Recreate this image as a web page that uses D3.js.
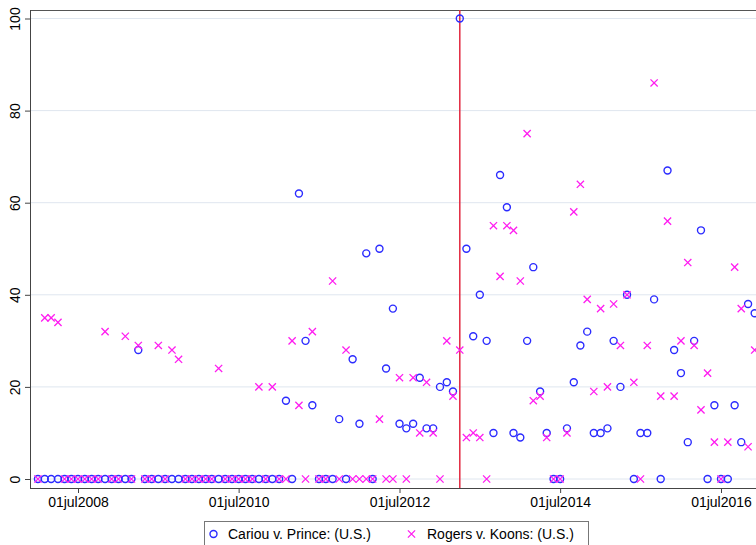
<!DOCTYPE html>
<html>
<head>
<meta charset="utf-8">
<script src="https://cdn.jsdelivr.net/npm/d3@7"></script>
<style>
  body { margin: 0; background: #fff; }
  svg { display: block; font-family: "Liberation Sans", Arial, Helvetica, sans-serif; }
</style>
</head>
<body>
<svg id="chart" width="756" height="545"></svg>
<script>
// monthly observations, jan2008 .. dec2016
const startMonth = "2008-01-01";
const cariou = [
  0,0,0,0,0,0,0,0,0,0,0,0,          // 2008
  0,0,0,28,0,0,0,0,0,0,0,0,         // 2009
  0,0,0,0,0,0,0,0,0,0,0,0,          // 2010
  0,17,0,62,30,16,0,0,0,13,0,26,    // 2011
  12,49,0,50,24,37,12,11,12,22,11,11, // 2012
  20,21,19,100,50,31,40,30,10,66,59,10, // 2013
  9,30,46,19,10,0,0,11,21,29,32,10,  // 2014
  10,11,30,20,40,0,10,10,39,0,67,28, // 2015
  23,8,30,54,0,16,0,0,16,8,38,36     // 2016
];
const rogers = [
  0,35,35,34,0,0,0,0,0,0,32,0,      // 2008
  0,31,0,29,0,0,29,0,28,26,0,0,     // 2009
  0,0,0,24,0,0,0,0,0,20,0,20,       // 2010
  0,0,30,16,0,32,0,0,43,0,28,0,     // 2011
  0,0,0,13,0,0,22,0,22,10,21,10,    // 2012
  0,30,18,28,9,10,9,0,55,44,55,54,  // 2013
  43,75,17,18,9,0,0,10,58,64,39,19, // 2014
  37,20,38,29,40,21,0,29,86,18,56,18, // 2015
  30,47,29,15,23,8,0,8,46,37,7,28   // 2016
];
const seriesNames = ["Cariou v. Prince: (U.S.)", "Rogers v. Koons: (U.S.)"];
const xTickDates = ["2008-07-01", "2010-07-01", "2012-07-01", "2014-07-01", "2016-07-01"];
const yTicks = [0, 20, 40, 60, 80, 100];
const decisionDate = "2013-04-01";

const blue = "#2b2bff", magenta = "#ff1cf0", red = "#e2283f";

const svg = d3.select("#chart");
const plot = { left: 30, top: 10, bottom: 488, right: 780 };

const parse = d3.utcParse("%Y-%m-%d");
const fmt = d3.utcFormat("%d%b%Y");

const months = d3.range(cariou.length).map(i => d3.utcMonth.offset(parse(startMonth), i));

const x = d3.scaleUtc()
  .domain([parse("2008-07-01"), parse("2016-07-01")])
  .range([78, 721]);
const y = d3.scaleLinear().domain([0, 100]).range([479, 18.5]);

svg.append("rect").attr("width", 756).attr("height", 545).attr("fill", "#fff");

// gridlines
svg.append("g")
  .selectAll("line")
  .data(yTicks)
  .join("line")
  .attr("x1", plot.left).attr("x2", plot.right)
  .attr("y1", d => y(d)).attr("y2", d => y(d))
  .attr("stroke", "#dfe6ef").attr("stroke-width", 1);

// frame
svg.append("line")
  .attr("x1", plot.left).attr("x2", plot.right)
  .attr("y1", plot.top + 0.5).attr("y2", plot.top + 0.5)
  .attr("stroke", "#555").attr("stroke-width", 1);

// y axis
const yAxis = svg.append("g")
  .attr("transform", `translate(${plot.left},0)`)
  .call(d3.axisLeft(y).tickValues(yTicks).tickSize(5).tickPadding(0).tickFormat(d3.format("d")));
yAxis.select(".domain").attr("d", `M0.5,${plot.top}V${plot.bottom}`).attr("stroke", "#444");
yAxis.selectAll(".tick line").attr("stroke", "#444");
yAxis.selectAll(".tick text")
  .attr("x", null).attr("dy", null)
  .attr("transform", "translate(-10,0) rotate(-90)")
  .attr("text-anchor", "middle")
  .attr("font-size", 14)
  .attr("fill", "#000");

// x axis
const xAxis = svg.append("g")
  .attr("transform", `translate(0,${plot.bottom})`)
  .call(d3.axisBottom(x).tickValues(xTickDates.map(parse)).tickSize(5).tickPadding(4)
    .tickFormat(d => fmt(d).toLowerCase()));
xAxis.select(".domain").attr("d", `M${plot.left},0.5H${plot.right}`).attr("stroke", "#444");
xAxis.selectAll(".tick line").attr("stroke", "#444");
xAxis.selectAll(".tick text").attr("font-size", 14).attr("fill", "#000");

// decision line
svg.append("line")
  .attr("x1", x(parse(decisionDate))).attr("x2", x(parse(decisionDate)))
  .attr("y1", plot.top).attr("y2", plot.bottom)
  .attr("stroke", red).attr("stroke-width", 1.5);

// cariou: circles
svg.append("g")
  .selectAll("circle")
  .data(months.map((m, i) => ({ m, v: cariou[i] })))
  .join("circle")
  .attr("cx", d => x(d.m))
  .attr("cy", d => y(d.v))
  .attr("r", 3.5)
  .attr("fill", "none")
  .attr("stroke", blue)
  .attr("stroke-width", 1.4);

// rogers: x marks
const h = 3.6;
const cross = `M${-h},${-h}L${h},${h}M${-h},${h}L${h},${-h}`;
svg.append("g")
  .selectAll("path")
  .data(months.map((m, i) => ({ m, v: rogers[i] })))
  .join("path")
  .attr("transform", d => `translate(${x(d.m)},${y(d.v)})`)
  .attr("d", cross)
  .attr("fill", "none")
  .attr("stroke", magenta)
  .attr("stroke-width", 1.3);

// legend
const leg = svg.append("g");
leg.append("rect")
  .attr("x", 204.5).attr("y", 521.5)
  .attr("width", 384).attr("height", 40)
  .attr("fill", "#fff").attr("stroke", "#777");
leg.append("circle")
  .attr("cx", 213.5).attr("cy", 534)
  .attr("r", 3.5).attr("fill", "none")
  .attr("stroke", blue).attr("stroke-width", 1.4);
leg.append("path")
  .attr("transform", "translate(411.5,534)")
  .attr("d", cross)
  .attr("fill", "none").attr("stroke", magenta).attr("stroke-width", 1.3);
leg.selectAll("text")
  .data(seriesNames)
  .join("text")
  .attr("x", (d, i) => i === 0 ? 228 : 427)
  .attr("y", 539)
  .attr("font-size", 14)
  .text(d => d);
</script>
</body>
</html>
